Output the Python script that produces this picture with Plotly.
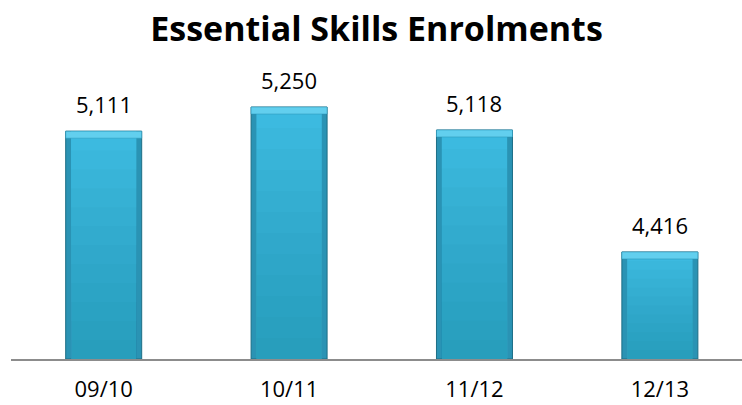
import plotly.graph_objects as go

# Enrolment counts per academic year
years = ["09/10", "10/11", "11/12", "12/13"]
enrolments = [5111, 5250, 5118, 4416]

Y_MIN, Y_MAX = 3800, 5400
BAR_W = 0.41
FONT = "Open Sans"

fig = go.Figure()

# body of each bar (darker outer colour gives the side bevels)
fig.add_trace(go.Bar(
    x=years, y=[v - Y_MIN for v in enrolments], base=Y_MIN, width=BAR_W,
    marker=dict(color="#2A93B4", line=dict(color="#1D6E86", width=1)),
    hoverinfo="skip", showlegend=False,
))
# brighter face inside the side bevels
fig.add_trace(go.Bar(
    x=years, y=[v - Y_MIN for v in enrolments], base=Y_MIN, width=BAR_W * 0.86,
    marker=dict(color="#3CBAE0", line=dict(width=0)),
    hoverinfo="skip", showlegend=False,
))
# vertical shading: stacked translucent layers darken the lower part
for i in range(1, 12):
    frac = 1 - i / 12
    fig.add_trace(go.Bar(
        x=years, y=[(v - Y_MIN) * frac for v in enrolments], base=Y_MIN,
        width=BAR_W * 0.86,
        marker=dict(color="rgba(10,70,95,0.022)", line=dict(width=0)),
        hoverinfo="skip", showlegend=False,
    ))
# light bevel along the top edge
cap = (Y_MAX - Y_MIN) * 0.025
fig.add_trace(go.Bar(
    x=years, y=[cap] * len(enrolments), base=[v - cap for v in enrolments],
    width=BAR_W,
    marker=dict(color="#62CFEE", line=dict(color="#2A93B4", width=0.5)),
    hoverinfo="skip", showlegend=False,
))

# value labels above the bars
for yr, v in zip(years, enrolments):
    fig.add_annotation(
        x=yr, y=v, text=f"{v:,}", showarrow=False,
        yanchor="bottom", yshift=10,
        font=dict(family=FONT, size=22, color="#000000"),
    )

fig.update_layout(
    width=742, height=405,
    margin=dict(l=11, r=0, t=81, b=46),
    paper_bgcolor="white", plot_bgcolor="white",
    barmode="overlay",
    title=dict(
        text="<b>Essential Skills Enrolments</b>",
        x=0.5, xanchor="center", xref="paper",
        y=1 - 29 / 405, yanchor="middle",
        font=dict(family=FONT, size=34, color="#000000"),
    ),
    xaxis=dict(
        type="category", range=[-0.5, 3.443], automargin=False,
        showline=True, linecolor="#8C8C8C", linewidth=1.5,
        showgrid=False, zeroline=False, ticks="",
        ticklabelstandoff=10,
        tickfont=dict(family=FONT, size=22, color="#000000"),
    ),
    yaxis=dict(
        range=[Y_MIN, Y_MAX], visible=False, showgrid=False, zeroline=False,
        automargin=False,
    ),
)

fig.write_html("out.html")
